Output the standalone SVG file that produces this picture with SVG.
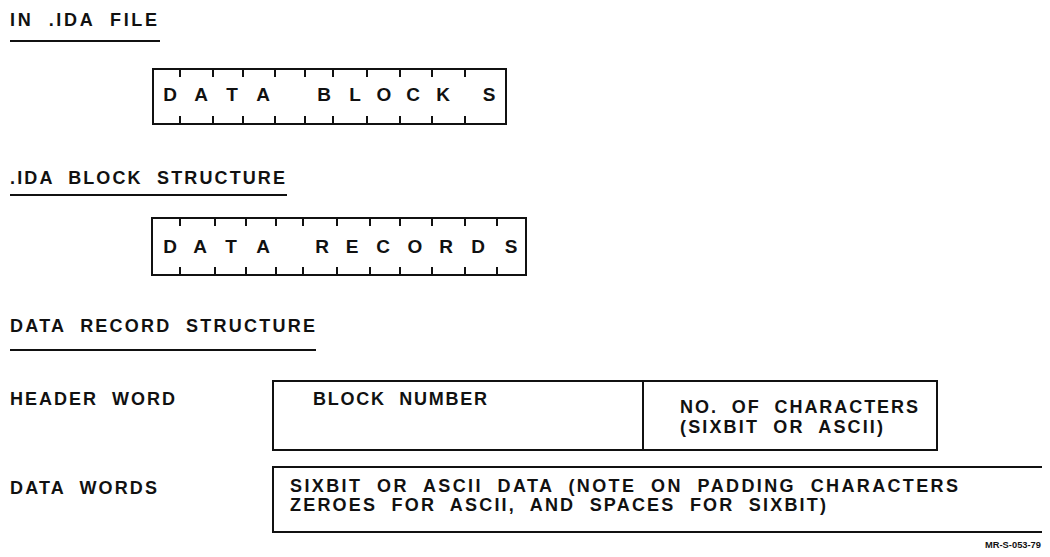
<svg xmlns="http://www.w3.org/2000/svg" width="1050" height="557" viewBox="0 0 1050 557">
<style>
.t{font-family:"Liberation Sans",Arial,sans-serif;font-size:18px;font-weight:bold;fill:#111;white-space:pre}
.L{font-family:"Liberation Sans",Arial,sans-serif;font-size:19px;font-weight:bold;fill:#111;text-anchor:middle}
.s{font-family:"Liberation Sans",Arial,sans-serif;font-size:9px;font-weight:bold;fill:#111}
.ln{stroke:#111;stroke-width:2;fill:none}
.tk{stroke:#111;stroke-width:2}
</style>
<rect width="1050" height="557" fill="#fff"/>
<g id="title1">
<text class="t" x="10" y="26" textLength="147" lengthAdjust="spacing">IN  .IDA  FILE</text>
<line class="ln" x1="10" y1="41" x2="160" y2="41"/>
</g>
<g id="box-data-blocks">
<rect class="ln" x="153" y="69" width="353" height="55"/>
<g class="tk">
<path d="M180 69v8M213 69v8M243 69v8M275 69v8M305 69v8M333 69v8M367 69v8M400 69v8M432 69v8M465 69v8"/>
<path d="M180 124v-8M213 124v-8M243 124v-8M275 124v-8M305 124v-8M333 124v-8M367 124v-8M400 124v-8M432 124v-8M465 124v-8"/>
</g>
<text class="L" x="170" y="101">D</text><text class="L" x="201" y="101">A</text><text class="L" x="232" y="101">T</text><text class="L" x="263" y="101">A</text>
<text class="L" x="324" y="101">B</text><text class="L" x="355" y="101">L</text><text class="L" x="384" y="101">O</text><text class="L" x="413" y="101">C</text><text class="L" x="443" y="101">K</text><text class="L" x="489" y="101">S</text>
</g>
<g id="title2">
<text class="t" x="10" y="184" textLength="275" lengthAdjust="spacing">.IDA  BLOCK  STRUCTURE</text>
<line class="ln" x1="10" y1="195" x2="287" y2="195"/>
</g>
<g id="box-data-records">
<rect class="ln" x="152" y="218" width="374" height="57"/>
<g class="tk">
<path d="M180 218v8M215 218v8M246 218v8M276 218v8M303 218v8M337 218v8M370 218v8M400 218v8M432 218v8M465 218v8M497 218v8"/>
<path d="M180 275v-8M215 275v-8M246 275v-8M276 275v-8M303 275v-8M337 275v-8M370 275v-8M400 275v-8M432 275v-8M465 275v-8M497 275v-8"/>
</g>
<text class="L" x="170" y="253">D</text><text class="L" x="200" y="253">A</text><text class="L" x="231" y="253">T</text><text class="L" x="263" y="253">A</text>
<text class="L" x="322" y="253">R</text><text class="L" x="352" y="253">E</text><text class="L" x="383" y="253">C</text><text class="L" x="415" y="253">O</text><text class="L" x="446" y="253">R</text><text class="L" x="478" y="253">D</text><text class="L" x="511" y="253">S</text>
</g>
<g id="title3">
<text class="t" x="10" y="332" textLength="305" lengthAdjust="spacing">DATA  RECORD  STRUCTURE</text>
<line class="ln" x1="10" y1="350" x2="316" y2="350"/>
</g>
<g id="label-header">
<text class="t" x="10" y="405" textLength="165" lengthAdjust="spacing">HEADER  WORD</text>
</g>
<g id="header-word">
<rect class="ln" x="273" y="381" width="664" height="69"/>
<line class="ln" x1="643" y1="381" x2="643" y2="450"/>
<text class="t" x="313" y="405" textLength="174" lengthAdjust="spacing">BLOCK  NUMBER</text>
<text class="t" x="680" y="413" textLength="238" lengthAdjust="spacing">NO.  OF  CHARACTERS</text>
<text class="t" x="680" y="433" textLength="203" lengthAdjust="spacing">(SIXBIT  OR  ASCII)</text>
</g>
<g id="label-data">
<text class="t" x="10" y="494" textLength="147" lengthAdjust="spacing">DATA  WORDS</text>
</g>
<g id="data-words">
<path class="ln" d="M1042 467H273V532H1042"/>
<text class="t" x="290" y="492" textLength="668" lengthAdjust="spacing">SIXBIT  OR  ASCII  DATA  (NOTE  ON  PADDING  CHARACTERS</text>
<text class="t" x="290" y="511" textLength="536" lengthAdjust="spacing">ZEROES  FOR  ASCII,  AND  SPACES  FOR  SIXBIT)</text>
</g>
<text class="s" x="985" y="548" textLength="56" lengthAdjust="spacingAndGlyphs">MR-S-053-79</text>
</svg>
